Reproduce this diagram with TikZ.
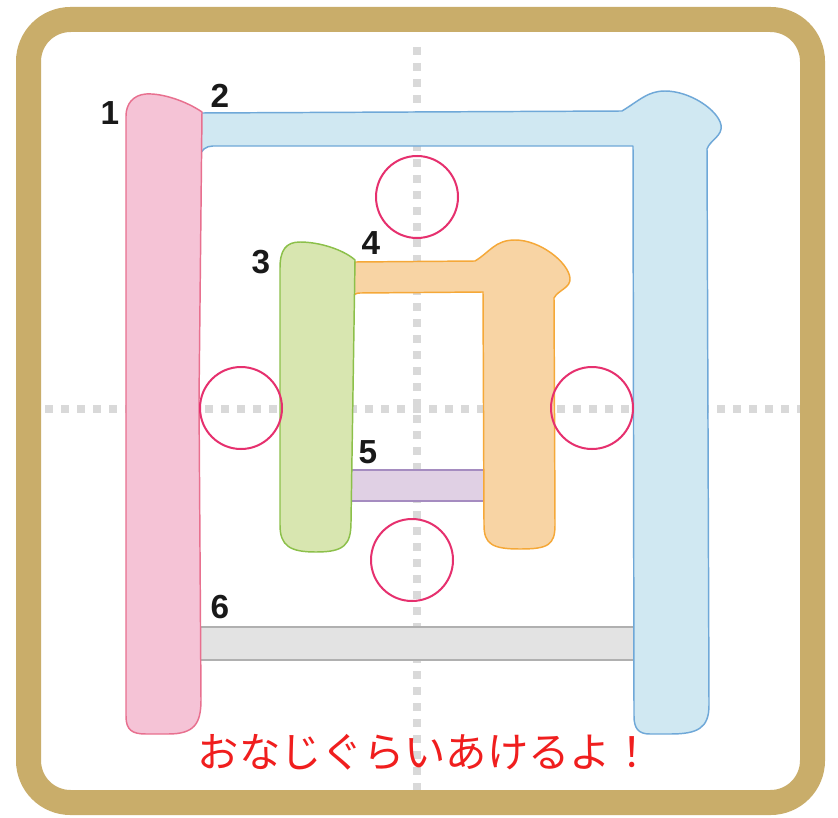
\documentclass[tikz,border=0pt]{standalone}
\usepackage{fontspec}
\setmainfont{Liberation Sans}
\newfontfamily\jpfont{Noto Sans CJK JP}
\definecolor{gold}{HTML}{C9AD6A}
\definecolor{guidegray}{HTML}{D9D9D9}
\definecolor{pinkfill}{HTML}{F5C3D6}
\definecolor{pinkline}{HTML}{E8708F}
\definecolor{bluefill}{HTML}{D0E8F2}
\definecolor{blueline}{HTML}{6FA8D8}
\definecolor{greenfill}{HTML}{D8E6B0}
\definecolor{greenline}{HTML}{8CC04A}
\definecolor{orangefill}{HTML}{F8D4A4}
\definecolor{orangeline}{HTML}{F5A838}
\definecolor{purplefill}{HTML}{E0D0E4}
\definecolor{purpleline}{HTML}{A58CC0}
\definecolor{grayfill}{HTML}{E3E3E3}
\definecolor{grayline}{HTML}{B0B0B0}
\definecolor{ringcol}{HTML}{E6306E}
\definecolor{msgred}{HTML}{F01E1E}
\begin{document}
\begin{tikzpicture}[x=0.75pt,y=-0.75pt,
  guide/.style={draw=guidegray,line width=6pt,dash pattern=on 6pt off 6pt},
  strokeshape/.style={line width=1.1pt,line join=round},
  ring/.style={draw=ringcol,line width=1.5pt},
  num/.style={inner sep=0pt,font=\fontsize{25}{25}\selectfont\bfseries,text=black!90},
  msg/.style={inner sep=0pt,font=\jpfont\fontsize{31}{31}\selectfont,text=msgred}]
\useasboundingbox (0,0) rectangle (838,817);
\fill[white] (0,0) rectangle (838,817);
% frame
\draw[gold,line width=18.75pt,rounded corners=31.5pt] (28.5,19.5) rectangle (812.5,802.5);
% guides
\coordinate (gvt) at (417,47);
\coordinate (gvb) at (417,790);
\coordinate (ghl) at (45,409);
\coordinate (ghr) at (800,409);
\draw[guide] (gvt) -- (gvb);
\draw[guide] (ghl) -- (ghr);
% stroke 6 (gray bar)
\draw[strokeshape,fill=grayfill,draw=grayline] (198,627) rectangle (636,660);
% stroke 5 (purple bar)
\draw[strokeshape,fill=purplefill,draw=purpleline] (348,470) rectangle (486,501);
% stroke 2 (blue)
\draw[strokeshape,fill=bluefill,draw=blueline]
  (201,113) -- (622,111)
  .. controls (640,100) and (648,91) .. (665,91)
  .. controls (690,91) and (718,110) .. (721,125)
  .. controls (723,136) and (710,140) .. (707,149)
  -- (709,705)
  .. controls (709,728) and (698,734) .. (670,734)
  -- (650,734)
  .. controls (638,734) and (634,728) .. (634,716)
  -- (633,146) -- (213,146)
  .. controls (206,146) and (201,150) .. (200,156) -- cycle;
% stroke 1 (pink)
\draw[strokeshape,fill=pinkfill,draw=pinkline]
  (126,116) -- (126,716)
  .. controls (126,730) and (132,734) .. (146,734)
  -- (168,734)
  .. controls (194,734) and (201,724) .. (201,700)
  -- (199,400) -- (202,112)
  .. controls (186,101) and (162,93) .. (146,94)
  .. controls (133,95) and (126,104) .. (126,116) -- cycle;
% stroke 4 (orange)
\draw[strokeshape,fill=orangefill,draw=orangeline]
  (355,262) -- (475,261)
  .. controls (490,252) and (495,240) .. (515,240)
  .. controls (540,240) and (568,262) .. (570,278)
  .. controls (571,288) and (558,290) .. (554,298)
  -- (555,525)
  .. controls (555,545) and (548,549) .. (520,549)
  .. controls (492,549) and (484,544) .. (484,525)
  -- (483,292) -- (360,293)
  .. controls (353,293) and (350,298) .. (350,306) -- cycle;
% stroke 3 (green)
\draw[strokeshape,fill=greenfill,draw=greenline]
  (280,268) .. controls (280,250) and (286,242) .. (300,242)
  .. controls (320,242) and (344,250) .. (355,260)
  -- (351,522)
  .. controls (351,545) and (344,552) .. (316,552)
  .. controls (290,552) and (280,546) .. (280,525) -- cycle;
% rings
\draw[ring] (417,197) circle (41);
\draw[ring] (241,408) circle (41);
\draw[ring] (592,408) circle (41);
\draw[ring] (412,560) circle (41);
% numbers
\node[num] (n1) at (110,113) {1};
\node[num] (n2) at (220,96) {2};
\node[num] (n3) at (261,262) {3};
\node[num] (n4) at (371,243) {4};
\node[num] (n5) at (368,452) {5};
\node[num] (n6) at (220,607) {6};
% message
\node[msg] (msg) at (425,752) {おなじぐらいあけるよ！};
\end{tikzpicture}
\end{document}
